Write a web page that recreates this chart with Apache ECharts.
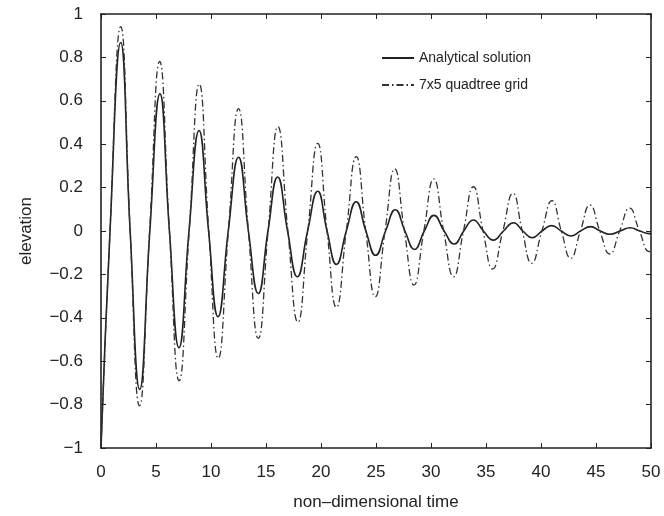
<!DOCTYPE html>
<html>
<head>
<meta charset="utf-8">
<script src="https://cdn.jsdelivr.net/npm/echarts@6/dist/echarts.min.js"></script>
<style>
html,body{margin:0;padding:0;background:#fff;}
#chart{width:664px;height:516px;}
</style>
</head>
<body>
<div id="chart"></div>
<script>
// Analytical solution: extrema and zero crossings
var anaT = [0, 0.82, 1.79, 2.65, 3.52, 4.44, 5.36, 6.22, 7.09, 8.0, 8.91, 9.78, 10.64, 11.57, 12.5, 13.4, 14.3, 15.18, 16.06, 16.96, 17.85, 18.78, 19.7, 20.55, 21.4, 22.3, 23.2, 24.08, 24.97, 25.87, 26.76, 27.63, 28.5, 29.39, 30.27, 31.19, 32.1, 32.98, 33.85, 34.76, 35.67, 36.59, 37.5, 38.35, 39.2, 40.09, 40.97, 41.84, 42.7, 43.6, 44.5, 45.39, 46.27, 47.19, 48.1, 48.98, 49.85, 50];
var anaV = [-1, 0, 0.869, 0, -0.730, 0, 0.632, 0, -0.538, 0, 0.463, 0, -0.395, 0, 0.340, 0, -0.288, 0, 0.249, 0, -0.211, 0, 0.183, 0, -0.154, 0, 0.135, 0, -0.112, 0, 0.098, 0, -0.085, 0, 0.072, 0, -0.060, 0, 0.051, 0, -0.042, 0, 0.038, 0, -0.031, 0, 0.025, 0, -0.023, 0, 0.020, 0, -0.015, 0, 0.015, 0, -0.012, -0.011];

// 7x5 quadtree grid
var quadT = [0, 0.82, 1.79, 2.65, 3.5, 4.42, 5.33, 6.22, 7.1, 8.02, 8.93, 9.8, 10.66, 11.58, 12.5, 13.4, 14.3, 15.19, 16.08, 16.99, 17.9, 18.8, 19.7, 20.55, 21.4, 22.3, 23.2, 24.07, 24.93, 25.82, 26.7, 27.58, 28.45, 29.35, 30.25, 31.15, 32.05, 32.95, 33.85, 34.73, 35.6, 36.53, 37.45, 38.3, 39.15, 40.08, 41.0, 41.85, 42.7, 43.58, 44.45, 45.35, 46.25, 47.15, 48.05, 48.95, 49.85, 50];
var quadV = [-1, 0, 0.942, 0, -0.806, 0, 0.781, 0, -0.690, 0, 0.677, 0, -0.587, 0, 0.564, 0, -0.495, 0, 0.481, 0, -0.420, 0, 0.404, 0, -0.352, 0, 0.343, 0, -0.303, 0, 0.286, 0, -0.249, 0, 0.240, 0, -0.211, 0, 0.204, 0, -0.175, 0, 0.174, 0, -0.149, 0, 0.140, 0, -0.126, 0, 0.120, 0, -0.106, 0, 0.105, 0, -0.095, -0.094];

var seriesNames = ['Analytical solution', '7x5 quadtree grid'];
var xLabel = 'non\u2013dimensional time';
var yLabel = 'elevation';

function pairs(t, v) { return t.map(function (x, i) { return [x, v[i]]; }); }
function fmt(v) {
  var r = Math.round(v * 10) / 10;
  if (r === 0) return '0';
  return (r < 0 ? '\u2212' : '') + String(Math.abs(r));
}

var FONT = 'Liberation Sans, Arial, sans-serif';
var INK = '#222';

var chart = echarts.init(document.getElementById('chart'), null, { renderer: 'canvas' });

function xAx(pos, show) {
  return {
    type: 'value', position: pos, min: 0, max: 50, interval: 5,
    name: show ? xLabel : '', nameLocation: 'middle', nameGap: 46,
    nameTextStyle: { fontFamily: FONT, fontSize: 17, color: INK },
    axisLine: { show: true, onZero: false, lineStyle: { color: INK, width: 1.6 } },
    axisTick: { show: true, inside: true, length: 5, lineStyle: { color: INK, width: 1 } },
    axisLabel: { show: show, margin: 16, fontFamily: FONT, fontSize: 17, color: INK },
    splitLine: { show: false }
  };
}
function yAx(pos, show) {
  return {
    type: 'value', position: pos, min: -1, max: 1, interval: 0.2,
    name: show ? yLabel : '', nameLocation: 'middle', nameGap: 66,
    nameTextStyle: { fontFamily: FONT, fontSize: 17, color: INK },
    axisLine: { show: true, onZero: false, lineStyle: { color: INK, width: 1.6 } },
    axisTick: { show: true, inside: true, length: 5, lineStyle: { color: INK, width: 1 } },
    axisLabel: { show: show, margin: 18, fontFamily: FONT, fontSize: 17, color: INK, formatter: fmt },
    splitLine: { show: false }
  };
}

chart.setOption({
  animation: false,
  backgroundColor: '#fff',
  grid: { left: 101, right: 13, top: 14, bottom: 68 },
  xAxis: [xAx('bottom', true), xAx('top', false)],
  yAxis: [yAx('left', true), yAx('right', false)],
  legend: {
    orient: 'vertical', left: 376, top: 46, itemWidth: 32, itemHeight: 10, itemGap: 13,
    itemStyle: { opacity: 0 },
    textStyle: { fontFamily: FONT, fontSize: 14, color: INK },
    data: seriesNames
  },
  series: [
    {
      name: seriesNames[0], type: 'line', xAxisIndex: 0, yAxisIndex: 0,
      data: pairs(anaT, anaV), smooth: 0.5, symbol: 'none',
      lineStyle: { color: INK, width: 1.6, type: 'solid' },
      itemStyle: { color: INK }
    },
    {
      name: seriesNames[1], type: 'line', xAxisIndex: 0, yAxisIndex: 0,
      data: pairs(quadT, quadV), smooth: 0.5, symbol: 'none',
      lineStyle: { color: '#333', width: 1.3, type: [7, 3, 1.5, 3] },
      itemStyle: { color: '#333' }
    }
  ]
});
</script>
</body>
</html>
